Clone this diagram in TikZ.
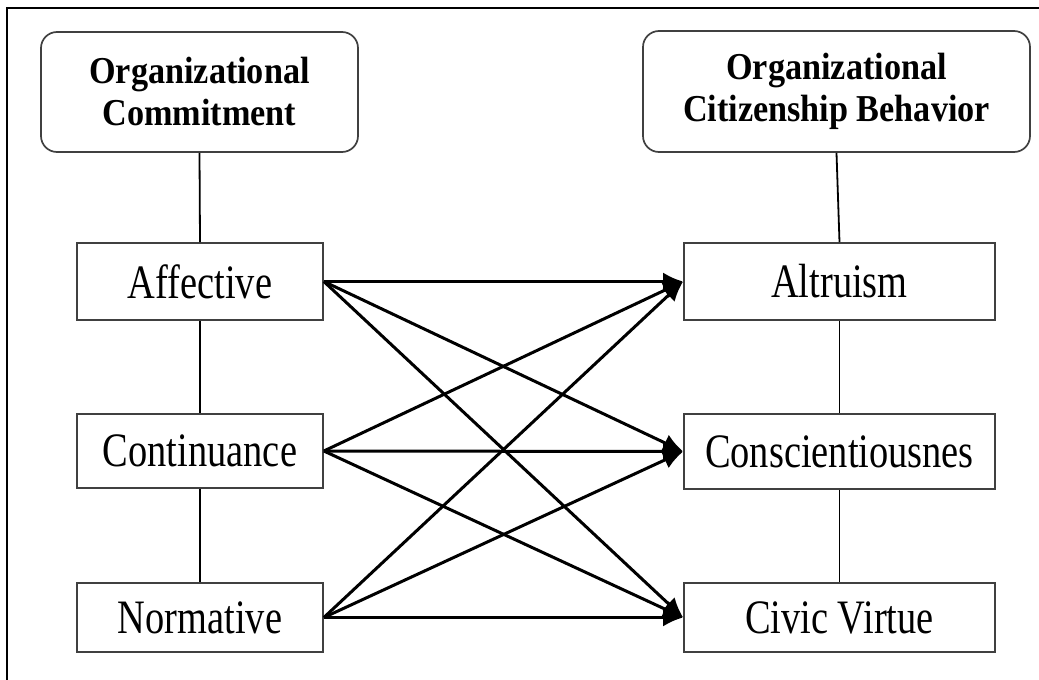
\documentclass[tikz,border=0pt]{standalone}
\usepackage{fontspec}
\setmainfont{Liberation Serif}
\newfontfamily\boxfont{Liberation Serif}[FakeStretch=0.8]
\newfontfamily\headfont{Liberation Serif}[FakeStretch=0.9]
\usetikzlibrary{arrows.meta}

\tikzset{
  dim/.style={draw=black!75, line width=1.7pt, inner sep=0pt, minimum height=76pt,
    font=\boxfont\fontsize{48}{56}\selectfont},
  head/.style={draw=black!75, line width=1.7pt, rounded corners=16pt, inner sep=0pt,
    align=center, font=\headfont\bfseries\fontsize{38}{42}\selectfont},
  link/.style={line width=1.8pt},
  arr/.style={line width=3pt, -{Latex[length=20pt,width=18pt]}}
}

\begin{document}
\begin{tikzpicture}[x=1pt,y=-1pt]
  \useasboundingbox (0,0) rectangle (1039,680);
  \draw[line width=1.8pt] (7,680) -- (7,8) -- (1039,8);

  % the two constructs
  \node[head, minimum width=317pt, minimum height=120pt] (oc) at (199.5,92) {Organizational\\Commitment};
  \node[head, minimum width=387pt, minimum height=121pt] (ocb) at (836.5,91.5) {Organizational\\Citizenship Behavior};

  % commitment dimensions
  \node[dim, minimum width=246pt, minimum height=77pt] (aff) at (200,281.5) {Affective};
  \node[dim, minimum width=246pt, minimum height=74pt] (con) at (200,451) {Continuance};
  \node[dim, minimum width=246pt, minimum height=69pt] (nor) at (200,617.5) {Normative};

  % OCB dimensions
  \node[dim, minimum width=311pt, minimum height=77pt] (alt) at (839.5,281.5) {Altruism};
  \node[dim, minimum width=311pt, minimum height=75pt] (csc) at (839.5,451.5) {Conscientiousnes};
  \node[dim, minimum width=311pt, minimum height=69pt] (civ) at (839.5,617.5) {Civic Virtue};

  \draw[link] (oc.south) -- (aff.north);
  \draw[link] (aff) -- (con);
  \draw[link] (con) -- (nor);
  \draw[link] (ocb.south) -- (alt.north);
  \draw[link] (alt) -- (csc);
  \draw[link] (csc) -- (civ);

  \foreach \s in {aff,con,nor}
    \foreach \t in {alt,csc,civ}
      \draw[arr] (\s.east) -- (\t.west);
\end{tikzpicture}
\end{document}
